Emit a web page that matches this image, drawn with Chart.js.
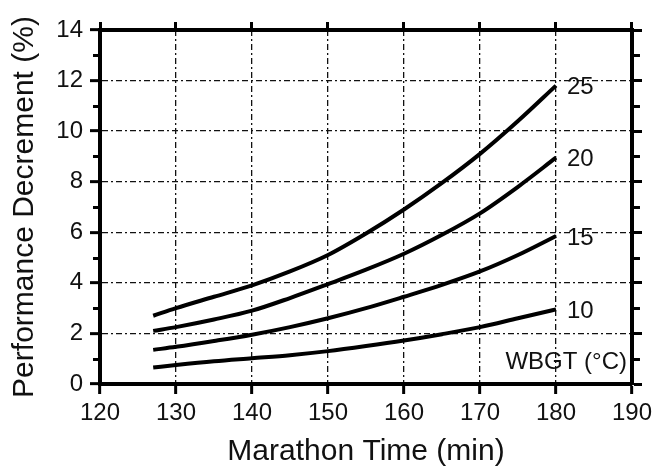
<!DOCTYPE html>
<html>
<head>
<meta charset="utf-8">
<script src="https://cdn.jsdelivr.net/npm/chart.js@4.4.0/dist/chart.umd.min.js"></script>
<style>
  html, body { margin: 0; padding: 0; background: #fff; }
  #wrap { width: 657px; height: 471px; }
</style>
</head>
<body>
<div id="wrap"><canvas id="chart"></canvas></div>
<script>
// marathon time (min) and performance decrement (%) for each WBGT
var time   = [127, 130, 135, 140, 145, 150, 155, 160, 165, 170, 175, 180];
var wbgt10 = [0.65, 0.75, 0.9, 1.02, 1.14, 1.3, 1.5, 1.72, 1.97, 2.25, 2.6, 2.95];
var wbgt15 = [1.35, 1.47, 1.7, 1.95, 2.25, 2.6, 3.0, 3.45, 3.92, 4.45, 5.1, 5.85];
var wbgt20 = [2.1, 2.25, 2.55, 2.9, 3.4, 3.95, 4.52, 5.15, 5.9, 6.75, 7.8, 8.95];
var wbgt25 = [2.7, 3.0, 3.45, 3.9, 4.45, 5.1, 5.95, 6.9, 7.95, 9.1, 10.4, 11.8];
var seriesNames = ['10', '15', '20', '25'];
var minorY = [1, 3, 5, 7, 9, 11, 13];

var FONT = "'Liberation Sans', Arial, Helvetica, sans-serif";

function toPoints(vals) {
  return vals.map(function (v, i) { return { x: time[i], y: v }; });
}

function makeLine(name, vals) {
  return {
    label: name,
    data: toPoints(vals),
    borderColor: '#000',
    backgroundColor: 'transparent',
    borderWidth: 4,
    pointRadius: 0,
    tension: 0.4,
    cubicInterpolationMode: 'monotone',
    fill: false,
    xAxisID: 'x',
    yAxisID: 'y'
  };
}

// minor ticks on the y axes and the curve labels
var extras = {
  id: 'extras',
  afterDraw: function (chart) {
    var ctx = chart.ctx;
    var area = chart.chartArea;
    var y = chart.scales.y;
    ctx.save();
    ctx.strokeStyle = '#000';
    ctx.lineWidth = 3;
    minorY.forEach(function (v) {
      var py = Math.round(y.getPixelForValue(v)) + 0.5;
      ctx.beginPath();
      ctx.moveTo(area.left - 7, py);
      ctx.lineTo(area.left, py);
      ctx.moveTo(area.right, py);
      ctx.lineTo(area.right + 8, py);
      ctx.stroke();
    });

    ctx.fillStyle = '#111';
    ctx.font = '24px ' + FONT;
    ctx.textBaseline = 'middle';
    ctx.textAlign = 'left';
    chart.data.datasets.forEach(function (ds, i) {
      var pts = chart.getDatasetMeta(i).data;
      var last = pts[pts.length - 1];
      ctx.fillText(seriesNames[i], last.x + 11, last.y + 2);
    });

    ctx.textAlign = 'right';
    ctx.fillText('WBGT (\u00B0C)', area.right - 5, area.bottom - 22);
    ctx.restore();
  }
};

var tickFont = { family: FONT, size: 24 };
var titleFont = { family: FONT, size: 30 };
var gridDash = [6, 3, 2, 3];

var ctx = document.getElementById('chart').getContext('2d');
var myChart = new Chart(ctx, {
  type: 'line',
  data: {
    datasets: [
      makeLine('10', wbgt10),
      makeLine('15', wbgt15),
      makeLine('20', wbgt20),
      makeLine('25', wbgt25)
    ]
  },
  options: {
    responsive: true,
    maintainAspectRatio: false,
    animation: false,
    layout: { padding: 0 },
    plugins: {
      legend: { display: false },
      tooltip: { enabled: false }
    },
    scales: {
      x: {
        type: 'linear',
        position: 'bottom',
        min: 120,
        max: 190,
        ticks: { stepSize: 10, font: tickFont, color: '#111', padding: 5, maxRotation: 0 },
        grid: { color: '#111', lineWidth: 1.3, tickLength: 10, tickWidth: 3, tickColor: '#000' },
        border: { display: true, color: '#000', width: 4, dash: gridDash },
        title: { display: true, text: 'Marathon Time (min)', font: titleFont, color: '#111', padding: { top: 0, bottom: 1 } },
        afterFit: function (s) { s.height = 87; }
      },
      x2: {
        type: 'linear',
        position: 'top',
        min: 120,
        max: 190,
        ticks: { stepSize: 10, display: false },
        grid: { drawOnChartArea: false, tickLength: 8, tickWidth: 3, tickColor: '#000' },
        border: { display: true, color: '#000', width: 4 },
        afterFit: function (s) { s.height = 30; }
      },
      y: {
        type: 'linear',
        position: 'left',
        min: 0,
        max: 14,
        ticks: { stepSize: 2, font: tickFont, color: '#111', padding: 7 },
        grid: { color: '#111', lineWidth: 1.3, tickLength: 10, tickWidth: 3, tickColor: '#000' },
        border: { display: true, color: '#000', width: 4, dash: gridDash },
        title: { display: true, text: 'Performance Decrement (%)', font: titleFont, color: '#111', padding: { top: 7, bottom: 0 } },
        afterFit: function (s) { s.width = 100; }
      },
      y2: {
        type: 'linear',
        position: 'right',
        min: 0,
        max: 14,
        ticks: { stepSize: 2, display: false },
        grid: { drawOnChartArea: false, tickLength: 10, tickWidth: 3, tickColor: '#000' },
        border: { display: true, color: '#000', width: 4 },
        afterFit: function (s) { s.width = 25; }
      }
    }
  },
  plugins: [extras]
});
</script>
</body>
</html>
